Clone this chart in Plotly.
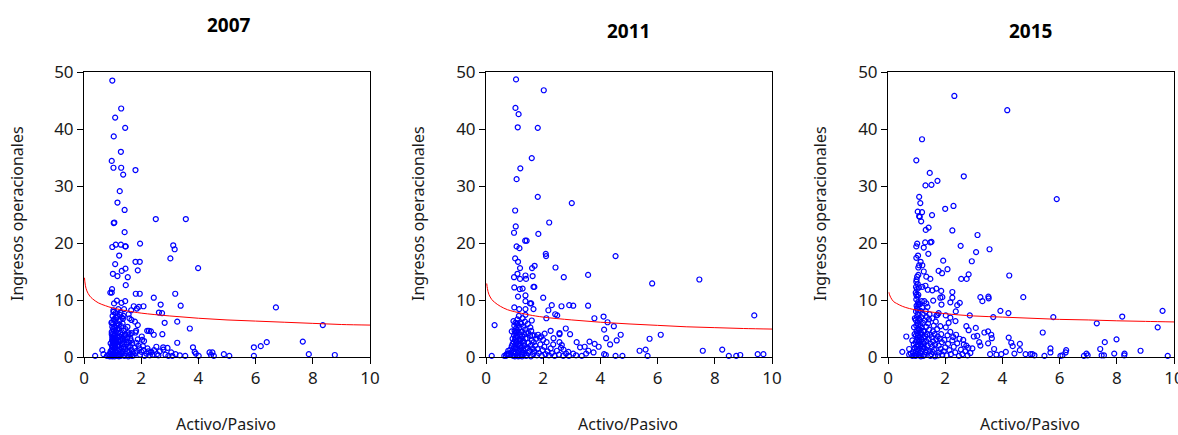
import plotly.graph_objects as go

years = ["2007", "2011", "2015"]

pts2007 = [
    (0.99,48.5),(1.30,43.6),(1.09,42.0),(1.44,40.2),(1.04,38.7),(1.29,36.0),(0.97,34.4),(1.03,33.2),
    (1.30,33.2),(1.80,32.8),(1.37,32.0),(1.25,29.1),(1.17,27.1),(1.42,25.8),(2.51,24.2),(3.56,24.2),
    (1.04,23.5),(1.06,23.6),(1.42,21.9),(0.99,19.3),(1.11,19.7),(1.29,19.7),(1.44,19.4),(1.46,19.4),
    (1.96,19.9),(3.12,19.6),(3.17,18.9),(1.23,17.8),(3.02,17.3),(1.09,16.3),(1.80,16.7),(1.95,16.7),
    (1.88,15.2),(3.99,15.6),(1.45,15.5),(1.32,15.1),(1.01,14.6),(1.17,14.2),(1.53,14.0),(1.46,12.6),
    (0.98,11.9),(0.92,11.3),(0.97,11.3),(1.81,11.1),(1.95,11.1),(3.19,11.1),(2.44,10.4),(2.68,9.2),
    (3.38,9.0),(6.71,8.7),(1.15,9.9),(1.44,9.8),(1.05,9.4),(1.31,9.5),(1.74,8.9),(1.92,8.8),
    (2.08,8.9),(1.85,8.5),(1.40,8.4),(1.03,8.2),(1.20,8.4),(2.62,7.8),(2.73,7.7),(1.65,8.2),
    (1.56,7.5),(1.26,7.4),(1.12,7.0),(1.36,6.7),(1.59,6.8),(1.66,6.5),(1.78,6.2),(2.82,6.0),
    (3.26,6.2),(0.98,6.1),(1.88,5.6),(8.35,5.6),(1.22,5.6),(3.70,5.0),(1.82,4.6),(2.21,4.6),
    (2.27,4.6),(2.34,4.5),(1.67,4.2),(2.74,4.0),(2.44,3.9),(2.02,3.6),(0.97,4.0),(1.43,3.9),
    (3.26,2.5),(6.39,2.6),(7.65,2.7),(6.18,1.9),(5.94,1.7),(3.81,1.7),(2.53,1.8),(2.77,1.7),
    (2.92,1.6),(2.78,1.3),(3.05,0.8),(3.87,0.9),(3.91,0.6),(4.39,0.8),(4.49,0.8),(4.44,0.35),
    (4.54,0.2),(4.89,0.5),(5.08,0.2),(3.54,0.2),(4.01,0.2),(5.94,0.2),(7.86,0.5),(8.77,0.35),
    (0.64,1.2),(0.68,0.5),(0.39,0.2),(3.09,0.2),(2.55,0.5),(2.36,0.9),(2.08,1.2),
    (0.96,0.2),(0.98,0.5),(1.00,0.9),(0.97,1.3),(1.01,1.7),(0.99,2.1),(1.02,2.5),(0.98,2.9),
    (1.00,3.3),(1.03,3.7),(0.97,4.4),(1.01,4.9),(0.99,5.3),(1.02,5.8),(1.04,6.6),(1.00,7.2),
    (1.03,7.9),(0.99,0.1),(1.01,0.3),(1.04,0.6),(1.02,1.1),(1.05,1.5),(0.98,1.9),(1.04,2.3),
    (1.01,2.7),(1.05,3.1),(0.99,3.5),(1.02,4.1),(1.05,4.6),(1.06,5.1),(0.96,6.0),
    (1.07,0.1),(1.09,0.4),(1.12,0.7),(1.08,1.0),(1.14,1.3),(1.10,1.6),(1.16,1.9),(1.07,2.2),
    (1.13,2.5),(1.09,2.8),(1.18,3.0),(1.11,3.3),(1.15,3.6),(1.08,3.9),(1.19,4.2),(1.12,4.5),
    (1.16,4.8),(1.10,5.2),(1.14,5.5),(1.18,5.9),(1.08,6.3),(1.13,6.8),(1.17,7.3),(1.10,7.7),
    (1.20,0.3),(1.15,0.2),(1.18,1.1),(1.20,2.0),(1.06,2.9),(1.19,3.5),
    (1.22,0.1),(1.25,0.5),(1.28,0.9),(1.23,1.3),(1.31,1.6),(1.26,2.0),(1.34,2.3),(1.21,2.6),
    (1.29,2.9),(1.36,3.2),(1.24,3.6),(1.32,3.9),(1.27,4.3),(1.38,4.6),(1.22,5.0),(1.30,5.4),
    (1.35,5.9),(1.25,6.4),(1.33,6.9),(1.39,0.3),(1.36,1.0),(1.40,1.8),(1.37,2.7),(1.40,3.7),
    (1.28,0.2),(1.33,0.6),(1.38,7.2),(1.27,7.8),
    (1.42,0.2),(1.46,0.6),(1.50,1.0),(1.44,1.4),(1.53,1.8),(1.48,2.2),(1.57,2.6),(1.43,3.0),
    (1.51,3.4),(1.46,3.9),(1.55,4.3),(1.60,4.0),(1.45,4.9),(1.52,5.3),(1.63,0.4),(1.58,0.9),
    (1.66,1.3),(1.61,1.9),(1.69,2.4),(1.64,2.9),(1.55,0.1),(1.68,0.2),(1.49,2.6),(1.62,3.3),(1.70,0.8),
    (1.74,0.3),(1.79,0.7),(1.85,1.1),(1.77,1.6),(1.90,2.0),(1.83,2.5),(1.96,0.4),(2.01,0.9),
    (1.94,1.5),(2.06,1.9),(2.12,0.2),(2.18,0.6),(2.25,1.0),(2.10,2.8),(1.88,3.1),(2.03,3.0),
    (2.30,0.3),(2.22,1.5),(2.34,0.8),(1.80,4.3),(2.40,0.4),(2.45,1.2),(2.60,0.3),(2.65,1.0),
    (2.85,0.4),(2.95,0.2),(3.20,0.5),(3.35,0.3),
    (0.92,0.2),(0.88,0.5),(0.93,1.0),(0.90,0.1),(0.85,0.3),(0.80,0.2),(0.93,2.4),
]

pts2011 = [
    (1.05,48.7),(2.02,46.8),(1.03,43.7),(1.14,42.6),(1.11,40.3),(1.81,40.2),(1.60,34.9),(1.20,33.1),
    (1.07,31.2),(1.81,28.1),(3.00,27.0),(1.02,25.7),(1.04,22.9),(2.21,23.6),(0.98,21.8),(1.83,21.6),
    (1.07,19.4),(1.17,19.1),(1.37,20.4),(1.42,20.4),(2.09,18.1),(2.10,17.7),(4.53,17.7),(1.02,17.3),
    (1.12,16.7),(1.19,15.6),(1.61,15.6),(1.70,16.0),(2.43,15.7),(1.10,14.6),(0.98,14.0),(1.38,14.3),
    (1.40,13.7),(1.19,13.7),(1.63,14.2),(2.72,14.0),(3.57,14.4),(7.46,13.6),(5.81,12.9),(0.99,12.2),
    (1.66,12.3),(1.69,12.3),(1.18,11.9),(1.28,12.0),(1.12,10.6),(1.38,10.8),(2.00,10.4),(1.38,9.8),
    (1.54,9.4),(1.58,9.4),(2.30,9.1),(2.64,8.9),(2.91,9.1),(3.05,9.0),(3.57,9.0),(0.99,8.7),
    (1.16,8.4),(1.66,8.4),(1.38,8.4),(2.18,8.2),(9.38,7.3),(2.42,7.5),(2.49,7.3),(4.11,7.1),
    (2.11,6.8),(3.79,6.8),(4.25,6.1),(4.47,5.4),(0.30,5.6),(2.79,5.0),(2.26,4.6),(4.13,4.8),
    (2.94,4.0),(4.71,3.9),(6.11,3.9),(5.72,3.2),(4.20,3.3),(2.36,3.3),(2.57,4.2),(2.57,4.0),
    (3.17,2.6),(3.62,2.7),(3.80,2.3),(4.34,2.2),(4.57,2.9),(3.94,1.8),(3.45,1.8),(3.29,1.7),
    (5.37,1.1),(5.58,1.3),(7.58,1.1),(8.26,1.3),(9.50,0.5),(9.70,0.5),(8.89,0.35),(8.75,0.2),
    (8.49,0.2),(5.65,0.2),(4.77,0.2),(4.53,0.2),(4.13,0.5),(4.19,0.35),(0.20,0.2),(0.64,0.2),
    (0.72,0.5),(3.76,0.8),(3.58,1.1),(3.05,0.6),(2.88,0.9),(2.71,1.3),(2.65,2.1),(2.57,2.6),
    (0.97,0.2),(1.00,0.6),(0.98,1.0),(1.02,1.4),(0.99,1.8),(1.03,2.2),(0.97,2.6),(1.01,3.0),
    (1.04,3.4),(0.98,3.8),(1.02,4.2),(1.00,4.6),(1.05,5.0),(0.99,5.5),(1.03,6.0),(0.96,6.3),
    (1.01,0.1),(1.04,0.8),(1.06,1.6),(1.05,2.7),(1.07,3.7),(1.06,4.4),
    (1.09,0.3),(1.12,0.7),(1.15,1.1),(1.10,1.5),(1.18,1.9),(1.13,2.3),(1.08,2.7),(1.16,3.1),
    (1.11,3.5),(1.19,3.9),(1.14,4.3),(1.09,4.7),(1.17,5.1),(1.12,5.6),(1.20,6.1),(1.10,6.6),
    (1.15,7.2),(1.18,0.2),(1.20,1.3),(1.13,0.1),(1.19,2.8),(1.08,5.9),
    (1.23,0.4),(1.27,0.8),(1.31,1.2),(1.25,1.6),(1.35,2.0),(1.22,2.4),(1.29,2.8),(1.38,3.2),
    (1.26,3.6),(1.33,4.0),(1.24,4.4),(1.37,4.8),(1.30,5.3),(1.23,5.8),(1.36,6.2),(1.28,6.8),
    (1.40,0.2),(1.34,0.6),(1.39,1.5),(1.32,2.5),(1.40,4.3),(1.26,0.1),(1.21,3.1),(1.38,7.4),
    (1.43,0.3),(1.47,0.7),(1.52,1.1),(1.45,1.6),(1.56,2.0),(1.49,2.5),(1.60,2.9),(1.44,3.3),
    (1.54,3.7),(1.48,4.2),(1.58,4.6),(1.62,3.8),(1.65,0.5),(1.69,1.0),(1.63,1.5),(1.72,2.0),
    (1.67,2.6),(1.75,3.2),(1.70,3.8),(1.55,5.2),(1.46,5.8),(1.57,0.1),(1.78,0.3),(1.80,1.4),(1.60,6.4),
    (1.85,0.7),(1.90,2.2),(1.95,0.2),(1.98,1.2),(2.04,1.8),(2.08,0.5),(1.88,3.4),(2.00,3.0),
    (2.12,2.6),(2.15,1.0),(2.20,0.3),(2.26,1.5),(2.30,0.7),(2.35,2.2),(2.40,0.2),(2.48,1.1),
    (2.55,0.4),(2.62,1.6),(2.70,0.2),(2.80,0.6),(2.90,0.2),(3.15,0.3),(3.35,0.2),(3.50,0.6),
    (1.82,3.9),(2.05,4.1),(1.93,3.6),
    (0.92,0.3),(0.88,0.8),(0.85,1.3),(0.90,1.9),(0.80,0.5),(0.78,1.1),(0.93,2.3),(0.70,0.2),
    (0.75,0.6),(0.93,3.2),(0.90,4.5),
]

pts2015 = [
    (2.32,45.8),(4.17,43.3),(1.19,38.2),(0.99,34.5),(1.46,32.3),(1.73,30.9),(1.31,30.1),(1.52,30.2),
    (2.65,31.7),(5.90,27.7),(1.09,28.1),(1.13,27.0),(1.04,25.5),(1.19,25.4),(1.09,24.7),(1.11,24.6),
    (1.16,23.8),(1.54,24.9),(2.00,26.0),(2.29,26.5),(1.32,22.3),(1.42,22.7),(2.25,22.2),(1.30,20.1),
    (1.48,20.1),(1.52,20.2),(1.02,19.9),(0.99,19.4),(1.25,19.2),(3.13,21.4),(2.54,19.5),(3.55,18.9),
    (3.08,18.4),(1.41,18.1),(0.99,17.4),(1.05,17.8),(1.93,16.9),(2.93,16.8),(1.14,16.7),(1.20,16.1),
    (1.06,15.7),(1.09,16.1),(2.08,15.4),(1.77,15.1),(1.89,14.7),(1.25,15.0),(2.82,14.5),(1.06,14.4),
    (1.02,14.1),(1.34,14.1),(1.48,13.7),(4.24,14.3),(2.56,13.7),(2.75,13.7),(0.99,13.2),(0.98,12.3),
    (1.20,12.3),(1.31,12.5),(1.69,12.0),(1.86,11.6),(2.25,11.4),(2.25,10.4),(0.97,11.3),(0.99,10.9),
    (1.39,11.8),(1.55,11.7),(3.23,10.5),(3.30,9.8),(3.51,10.6),(3.52,10.3),(4.73,10.5),(1.83,10.4),
    (1.90,10.5),(1.58,9.9),(2.18,9.6),(2.51,9.5),(1.27,9.8),(1.34,9.4),(1.87,9.2),(1.06,9.1),
    (2.42,9.1),(9.60,8.1),(3.93,8.1),(4.21,7.7),(2.86,7.3),(3.68,7.0),(5.78,7.0),(8.19,7.1),
    (7.30,5.9),(9.43,5.2),(5.41,4.3),(1.73,7.4),(1.77,7.7),(2.18,6.9),(2.36,6.3),(2.37,8.0),
    (2.02,7.3),(2.74,5.4),(2.82,4.7),(3.07,5.1),(3.37,4.3),(3.50,4.5),(3.00,3.6),(3.12,3.7),
    (3.61,3.9),(3.63,3.3),(4.22,3.4),(2.63,3.0),(4.31,2.5),(4.61,2.3),(4.61,1.2),(4.36,1.9),
    (3.23,2.0),(3.19,2.6),(3.50,2.4),(7.58,2.6),(7.99,3.1),(7.42,1.4),(5.68,1.5),(5.68,0.8),
    (6.23,1.2),(6.21,0.8),(8.83,1.1),(7.91,0.6),(8.27,0.6),(8.26,0.3),(6.94,0.6),(6.98,0.3),
    (7.47,0.3),(7.55,0.3),(9.78,0.2),(6.10,0.3),(6.03,0.2),(6.85,0.2),(5.47,0.2),(5.12,0.3),
    (5.05,0.5),(4.98,0.5),(4.81,0.5),(4.42,0.6),(4.12,0.9),(3.96,0.5),(3.79,0.4),(3.71,1.4),
    (3.57,0.5),(2.81,1.6),(2.74,2.0),(0.50,0.9),(0.64,3.6),(0.74,1.4),(0.74,0.4),(0.85,2.9),
    (0.97,0.2),(1.00,0.6),(0.98,1.0),(1.02,1.4),(0.99,1.8),(1.03,2.2),(0.97,2.6),(1.01,3.0),
    (1.04,3.4),(0.98,3.8),(1.02,4.2),(1.00,4.6),(1.05,5.0),(0.99,5.5),(1.03,6.0),(0.97,6.5),
    (1.01,7.0),(1.04,7.5),(0.98,8.0),(1.02,8.5),(1.00,9.0),(1.05,9.6),(0.99,10.1),(1.03,10.6),
    (1.01,11.9),(1.04,12.8),(1.00,13.6),(1.06,0.4),(1.07,1.2),(1.06,2.0),(1.07,2.9),(1.05,3.8),
    (1.08,4.8),(1.06,5.7),(1.07,6.8),(1.05,8.2),(1.07,9.3),(1.06,10.9),(1.08,12.2),
    (1.10,0.3),(1.13,0.7),(1.16,1.1),(1.11,1.5),(1.19,1.9),(1.14,2.3),(1.09,2.7),(1.17,3.1),
    (1.12,3.5),(1.20,3.9),(1.15,4.3),(1.10,4.7),(1.18,5.1),(1.13,5.6),(1.22,6.0),(1.11,6.5),
    (1.16,7.0),(1.21,7.6),(1.14,8.1),(1.19,8.7),(1.12,9.3),(1.24,0.2),(1.23,1.4),(1.22,2.6),
    (1.24,3.4),(1.23,4.6),(1.15,0.1),(1.18,9.8),
    (1.27,0.4),(1.31,0.8),(1.35,1.2),(1.28,1.6),(1.39,2.0),(1.26,2.4),(1.33,2.8),(1.42,3.2),
    (1.30,3.6),(1.37,4.0),(1.27,4.5),(1.44,4.8),(1.34,5.3),(1.40,5.9),(1.29,6.4),(1.36,7.0),
    (1.45,7.5),(1.32,8.0),(1.48,0.2),(1.46,1.0),(1.49,2.3),(1.47,3.9),(1.43,6.6),(1.38,8.8),
    (1.52,0.5),(1.56,0.9),(1.61,1.3),(1.54,1.8),(1.65,2.2),(1.58,2.7),(1.69,3.1),(1.53,3.5),
    (1.63,4.0),(1.57,4.5),(1.72,4.9),(1.60,5.5),(1.67,6.2),(1.55,6.8),(1.75,0.3),(1.79,0.8),
    (1.84,1.4),(1.77,2.0),(1.88,2.6),(1.81,3.2),(1.86,4.0),(1.74,3.6),(1.64,0.1),(1.90,0.4),
    (1.70,7.3),(1.83,5.4),
    (1.95,1.0),(2.00,1.7),(2.05,0.3),(2.10,2.3),(1.97,3.0),(2.15,1.2),(2.20,0.5),(2.08,3.8),
    (2.25,2.9),(2.30,1.8),(2.35,0.8),(2.42,2.4),(2.18,4.4),(2.48,0.2),(2.55,1.3),(2.60,0.5),
    (2.70,1.0),(2.78,0.3),(2.88,0.7),(2.95,1.5),(2.02,5.2),(2.28,3.5),(2.38,3.9),(2.50,3.2),
    (2.65,2.2),(2.12,6.0),
    (0.92,0.3),(0.88,0.8),(0.93,1.6),(0.90,2.2),(0.85,0.2),(0.93,4.0),(0.91,5.2),(0.94,6.8),(0.80,0.6),
]

# fitted curves
fit_x2007 = [0.017, 0.03, 0.05, 0.1, 0.2, 0.3, 0.5, 0.75, 1, 1.5, 2, 3, 4, 5, 6, 7, 8, 9, 10]
fit_y2007 = [13.9, 13.2, 12.5, 11.6, 10.7, 10.2, 9.5, 9.0, 8.6, 8.1, 7.7, 7.2, 6.8, 6.5, 6.3, 6.1, 5.9, 5.7, 5.6]
fit_x2011 = [0.025, 0.05, 0.1, 0.2, 0.3, 0.5, 0.75, 1, 1.5, 2, 3, 4, 5, 6, 7, 8, 9, 10]
fit_y2011 = [12.9, 12.0, 11.0, 10.1, 9.6, 8.9, 8.3, 7.95, 7.4, 7.0, 6.5, 6.1, 5.8, 5.55, 5.3, 5.15, 5.0, 4.9]
fit_x2015 = [0.034, 0.05, 0.1, 0.2, 0.3, 0.5, 0.75, 1, 1.5, 2, 3, 4, 5, 6, 7, 8, 9, 10]
fit_y2015 = [11.35, 11.0, 10.4, 9.7, 9.4, 8.9, 8.5, 8.25, 7.9, 7.6, 7.2, 7.0, 6.8, 6.6, 6.5, 6.35, 6.25, 6.15]

x_ticks = [0, 2, 4, 6, 8, 10]
y_ticks = [0, 10, 20, 30, 40, 50]
x_title = "Activo/Pasivo"
y_title = "Ingresos operacionales"

W, H = 1178, 435
FONT = "Noto Sans"

points = [pts2007, pts2011, pts2015]
fits = [(fit_x2007, fit_y2007), (fit_x2011, fit_y2011), (fit_x2015, fit_y2015)]

# pixel layout
left_px = [84, 486, 888]
width_px = 286
top_px, bottom_px = 72, 357
title_pos = [(229, 25), (628, 31), (1030, 31)]
xtitle_pos = [(226, 424), (628, 424), (1030, 424)]
ytitle_pos = [(17, 214), (418, 214), (820, 214)]

fig = go.Figure()
for i in range(3):
    ax = "" if i == 0 else str(i + 1)
    xs = [p[0] for p in points[i]]
    ys = [p[1] for p in points[i]]
    fig.add_trace(go.Scatter(
        x=xs, y=ys, mode="markers", xaxis="x" + ax, yaxis="y" + ax,
        marker=dict(symbol="circle-open", size=5, color="#0000ff", line=dict(width=1.2, color="#0000ff")),
        showlegend=False, hoverinfo="skip", cliponaxis=False))
    fig.add_trace(go.Scatter(
        x=fits[i][0], y=fits[i][1], mode="lines", xaxis="x" + ax, yaxis="y" + ax,
        line=dict(color="#ff0000", width=1, shape="spline"), showlegend=False, hoverinfo="skip"))
    axis_common = dict(showline=True, linecolor="black", linewidth=1, mirror=True,
                       ticks="outside", ticklen=6, tickcolor="black", showgrid=False,
                       zeroline=False, automargin=False, ticklabeloverflow="allow",
                       tickfont=dict(family=FONT, size=17, color="#1a1a1a"))
    fig.layout["xaxis" + ax] = dict(
        domain=[left_px[i] / W, (left_px[i] + width_px) / W], range=[0, 10],
        tickvals=x_ticks, anchor="y" + ax, **axis_common)
    fig.layout["yaxis" + ax] = dict(
        domain=[1 - bottom_px / H, 1 - top_px / H], range=[0, 50],
        tickvals=y_ticks, anchor="x" + ax, **axis_common)

annots = []
for i in range(3):
    annots.append(dict(text="<b>" + years[i] + "</b>", x=title_pos[i][0] / W, y=1 - title_pos[i][1] / H,
                       xref="paper", yref="paper", showarrow=False, xanchor="center", yanchor="middle",
                       font=dict(family=FONT, size=19, color="black")))
    annots.append(dict(text=x_title, x=xtitle_pos[i][0] / W, y=1 - xtitle_pos[i][1] / H,
                       xref="paper", yref="paper", showarrow=False, xanchor="center", yanchor="middle",
                       font=dict(family=FONT, size=16, color="#1a1a1a")))
    annots.append(dict(text=y_title, x=ytitle_pos[i][0] / W, y=1 - ytitle_pos[i][1] / H,
                       xref="paper", yref="paper", showarrow=False, xanchor="center", yanchor="middle",
                       textangle=-90, font=dict(family=FONT, size=16, color="#1a1a1a")))

fig.update_layout(width=W, height=H, margin=dict(l=0, r=0, t=0, b=0, autoexpand=False),
                  paper_bgcolor="white", plot_bgcolor="white", annotations=annots)

fig.write_html("out.html")
